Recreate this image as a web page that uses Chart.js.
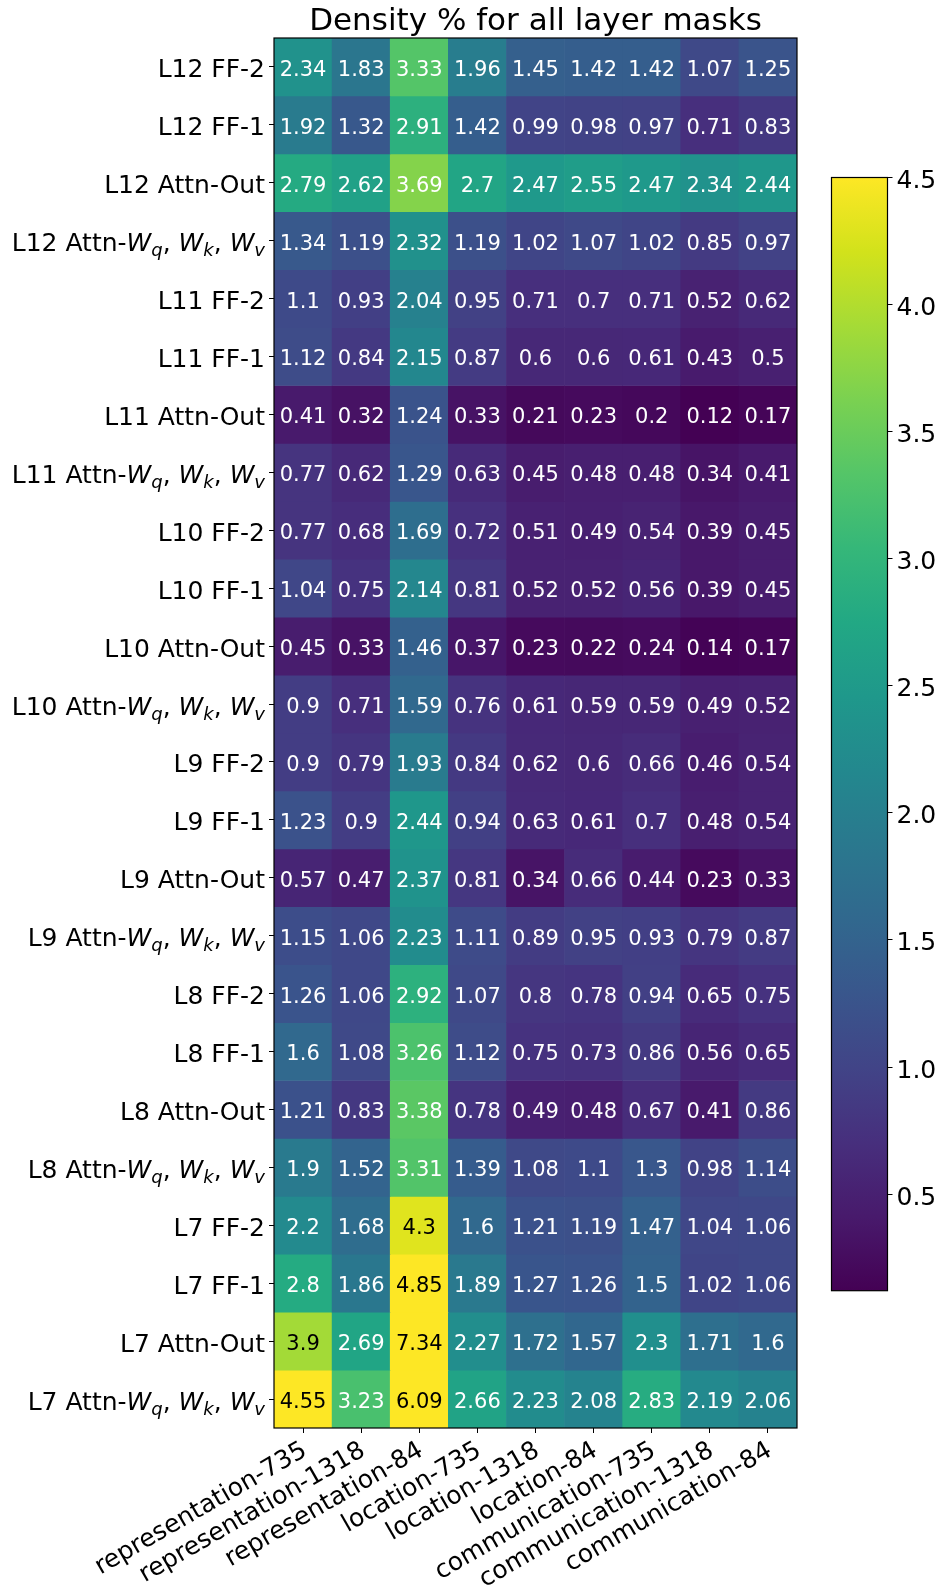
<!DOCTYPE html>
<html><head><meta charset="utf-8">
<script src="https://cdn.jsdelivr.net/npm/chart.js@4.4.0/dist/chart.umd.min.js"></script>
<style>
html,body{margin:0;padding:0;background:#fff;}
#wrap{position:relative;width:941px;height:1594px;overflow:hidden;}
#main{position:absolute;left:0;top:0;}
#cbar{position:absolute;left:800px;top:150px;}
</style></head><body>
<div id="wrap"><canvas id="main" width="941" height="1594"></canvas><canvas id="cbar" width="141" height="1170"></canvas></div>
<script>
const columns = ['representation-735','representation-1318','representation-84','location-735','location-1318','location-84','communication-735','communication-1318','communication-84'];
const rowLabels = [
 'L12 FF-2','L12 FF-1','L12 Attn-Out','L12 Attn-$W_q, W_k, W_v$',
 'L11 FF-2','L11 FF-1','L11 Attn-Out','L11 Attn-$W_q, W_k, W_v$',
 'L10 FF-2','L10 FF-1','L10 Attn-Out','L10 Attn-$W_q, W_k, W_v$',
 'L9 FF-2','L9 FF-1','L9 Attn-Out','L9 Attn-$W_q, W_k, W_v$',
 'L8 FF-2','L8 FF-1','L8 Attn-Out','L8 Attn-$W_q, W_k, W_v$',
 'L7 FF-2','L7 FF-1','L7 Attn-Out','L7 Attn-$W_q, W_k, W_v$'
];
const density = [
 [2.34,1.83,3.33,1.96,1.45,1.42,1.42,1.07,1.25],
 [1.92,1.32,2.91,1.42,0.99,0.98,0.97,0.71,0.83],
 [2.79,2.62,3.69,2.7,2.47,2.55,2.47,2.34,2.44],
 [1.34,1.19,2.32,1.19,1.02,1.07,1.02,0.85,0.97],
 [1.1,0.93,2.04,0.95,0.71,0.7,0.71,0.52,0.62],
 [1.12,0.84,2.15,0.87,0.6,0.6,0.61,0.43,0.5],
 [0.41,0.32,1.24,0.33,0.21,0.23,0.2,0.12,0.17],
 [0.77,0.62,1.29,0.63,0.45,0.48,0.48,0.34,0.41],
 [0.77,0.68,1.69,0.72,0.51,0.49,0.54,0.39,0.45],
 [1.04,0.75,2.14,0.81,0.52,0.52,0.56,0.39,0.45],
 [0.45,0.33,1.46,0.37,0.23,0.22,0.24,0.14,0.17],
 [0.9,0.71,1.59,0.76,0.61,0.59,0.59,0.49,0.52],
 [0.9,0.79,1.93,0.84,0.62,0.6,0.66,0.46,0.54],
 [1.23,0.9,2.44,0.94,0.63,0.61,0.7,0.48,0.54],
 [0.57,0.47,2.37,0.81,0.34,0.66,0.44,0.23,0.33],
 [1.15,1.06,2.23,1.11,0.89,0.95,0.93,0.79,0.87],
 [1.26,1.06,2.92,1.07,0.8,0.78,0.94,0.65,0.75],
 [1.6,1.08,3.26,1.12,0.75,0.73,0.86,0.56,0.65],
 [1.21,0.83,3.38,0.78,0.49,0.48,0.67,0.41,0.86],
 [1.9,1.52,3.31,1.39,1.08,1.1,1.3,0.98,1.14],
 [2.2,1.68,4.3,1.6,1.21,1.19,1.47,1.04,1.06],
 [2.8,1.86,4.85,1.89,1.27,1.26,1.5,1.02,1.06],
 [3.9,2.69,7.34,2.27,1.72,1.57,2.3,1.71,1.6],
 [4.55,3.23,6.09,2.66,2.23,2.08,2.83,2.19,2.06]
];
const colorbarTicks = [0.5,1.0,1.5,2.0,2.5,3.0,3.5,4.0,4.5];
const vmin = 0.12, vmax = 4.5;
const titleText = 'Density % for all layer masks';

const FONT = 'DejaVu Sans';
Chart.defaults.font.family = FONT;
Chart.defaults.color = '#000';

const viridis = ['#440154','#481a6c','#472f7d','#414487','#39568c','#31688e','#2a788e','#23888e','#1f988b','#22a884','#35b779','#54c568','#7ad151','#a5db36','#d2e21b','#fde725'];
function hex2rgb(h){return [parseInt(h.slice(1,3),16),parseInt(h.slice(3,5),16),parseInt(h.slice(5,7),16)];}
const vir = viridis.map(hex2rgb);
function colorFor(v){
  let t = (v - vmin)/(vmax - vmin);
  t = Math.max(0, Math.min(1, t));
  const p = t*(vir.length-1);
  const i = Math.min(Math.floor(p), vir.length-2);
  const f = p - i;
  const c = [0,1,2].map(k => Math.round(vir[i][k] + (vir[i+1][k]-vir[i][k])*f));
  return 'rgb(' + c.join(',') + ')';
}

const LABEL_SIZE = 25;
const TICK_LEN = 5;
const Y_PAD = 4;
const Y_LABEL_SHIFT = 4;

const overlay = {
  id: 'overlay',
  afterDatasetsDraw(chart){
    const ctx = chart.ctx;
    const ys = chart.scales.y;
    ctx.save();
    ctx.font = '21px "' + FONT + '"';
    ctx.textAlign = 'center';
    ctx.textBaseline = 'middle';
    chart.data.datasets.forEach((ds, r) => {
      const meta = chart.getDatasetMeta(r);
      meta.data.forEach((el, c) => {
        const v = density[r][c];
        ctx.fillStyle = v > 3.8 ? '#000' : '#fff';
        ctx.fillText(String(v), el.x, ys.getPixelForValue(r + 0.5) + 3.5);
      });
    });
    const a = chart.chartArea;
    ctx.strokeStyle = '#000';
    ctx.lineWidth = 1.2;
    ctx.strokeRect(a.left, a.top, a.right - a.left, a.bottom - a.top);
    ctx.restore();
  },
  afterDraw(chart){
    const ctx = chart.ctx;
    const ys = chart.scales.y;
    const a = chart.chartArea;
    const rightX = a.left - TICK_LEN - Y_PAD;
    ctx.save();
    ctx.fillStyle = '#000';
    ctx.textAlign = 'left';
    const nFont = LABEL_SIZE + 'px "' + FONT + '"';
    const iFont = 'italic ' + LABEL_SIZE + 'px "' + FONT + '"';
    const sFont = 'italic ' + Math.round(LABEL_SIZE*0.7) + 'px "' + FONT + '"';
    ctx.font = nFont;
    ctx.textBaseline = 'middle';
    const off = ctx.measureText('L').actualBoundingBoxDescent;
    ctx.textBaseline = 'alphabetic';
    rowLabels.forEach((lab, r) => {
      if (lab.indexOf('$') < 0) return;
      const parts = lab.split('$');
      const segs = [{t: parts[0], f: nFont, dy: 0}];
      const terms = parts[1].split(', ');
      terms.forEach((term, k) => {
        const [base, sub] = term.split('_');
        segs.push({t: base, f: iFont, dy: 0});
        segs.push({t: sub, f: sFont, dy: 5});
        if (k < terms.length - 1) segs.push({t: ', ', f: nFont, dy: 0});
      });
      let total = 0;
      segs.forEach(s => { ctx.font = s.f; s.w = ctx.measureText(s.t).width; total += s.w; });
      let x = rightX - total;
      const yb = ys.getPixelForValue(r + 0.5) + off + Y_LABEL_SHIFT;
      segs.forEach(s => { ctx.font = s.f; ctx.fillText(s.t, x, yb + s.dy); x += s.w; });
    });
    ctx.restore();
  }
};

new Chart(document.getElementById('main'), {
  type: 'bar',
  data: {
    labels: columns,
    datasets: rowLabels.map((lab, r) => ({
      label: lab,
      data: columns.map(() => [r, r + 1]),
      backgroundColor: density[r].map(colorFor),
      borderWidth: 0,
      barPercentage: 1,
      categoryPercentage: 1,
      grouped: false
    }))
  },
  options: {
    responsive: false,
    animation: false,
    devicePixelRatio: 1,
    layout: {padding: {left: 0, right: 144, top: 0, bottom: 0}},
    plugins: {
      legend: {display: false},
      tooltip: {enabled: false},
      title: {display: true, text: titleText, fullSize: false, color: '#000',
        font: {family: FONT, size: 31, weight: 'normal', lineHeight: 1.0},
        padding: {top: 6.8, bottom: 0.2}}
    },
    scales: {
      x: {
        position: 'bottom',
        grid: {display: true, drawOnChartArea: false, drawTicks: true, tickLength: TICK_LEN, color: '#000', offset: false},
        border: {display: false},
        ticks: {font: {family: FONT, size: LABEL_SIZE}, color: '#000', maxRotation: 30, minRotation: 30, autoSkip: false, padding: 3, labelOffset: 2},
        afterFit: s => { s.height = 1594 - 1428; }
      },
      y: {
        type: 'linear', reverse: true, min: 0, max: rowLabels.length,
        grid: {drawOnChartArea: false, drawTicks: true, tickLength: TICK_LEN, color: '#000'},
        border: {display: false},
        ticks: {font: {family: FONT, size: LABEL_SIZE}, color: '#000', padding: Y_PAD, autoSkip: false, labelOffset: Y_LABEL_SHIFT,
          callback: v => { const lab = rowLabels[Math.floor(v)]; return (lab && lab.indexOf('$') < 0) ? lab : ''; }},
        afterBuildTicks: s => { s.ticks = rowLabels.map((_, r) => ({value: r + 0.5})); },
        afterFit: s => { s.width = 274; }
      }
    }
  },
  plugins: [overlay]
});

const cbFrame = {
  id: 'cbFrame',
  afterDatasetsDraw(chart){
    const a = chart.chartArea, ctx = chart.ctx;
    ctx.save();
    ctx.strokeStyle = '#000';
    ctx.lineWidth = 1.2;
    ctx.strokeRect(a.left, a.top, a.right - a.left, a.bottom - a.top);
    ctx.restore();
  }
};

new Chart(document.getElementById('cbar'), {
  type: 'bar',
  data: {
    labels: ['density'],
    datasets: [{
      data: [[vmin, vmax]],
      backgroundColor: c => {
        const ch = c.chart, area = ch.chartArea;
        if (!area) return viridis[0];
        const g = ch.ctx.createLinearGradient(0, area.bottom, 0, area.top);
        viridis.forEach((col, i) => g.addColorStop(i/(viridis.length-1), col));
        return g;
      },
      borderWidth: 0, barPercentage: 1, categoryPercentage: 1
    }]
  },
  options: {
    responsive: false, animation: false, devicePixelRatio: 1,
    layout: {padding: {left: 31.5, top: 27.5, bottom: 29.3, right: 0}},
    plugins: {legend: {display: false}, tooltip: {enabled: false}},
    scales: {
      x: {display: false},
      y: {
        position: 'right', min: vmin, max: vmax,
        grid: {drawOnChartArea: false, drawTicks: true, tickLength: TICK_LEN, color: '#000'},
        border: {display: false},
        ticks: {font: {family: FONT, size: LABEL_SIZE}, color: '#000', padding: 4, labelOffset: 4, callback: v => Number(v).toFixed(1)},
        afterBuildTicks: s => { s.ticks = colorbarTicks.map(v => ({value: v})); },
        afterFit: s => { s.width = 141 - 87.5; }
      }
    }
  },
  plugins: [cbFrame]
});
</script>
</body></html>
